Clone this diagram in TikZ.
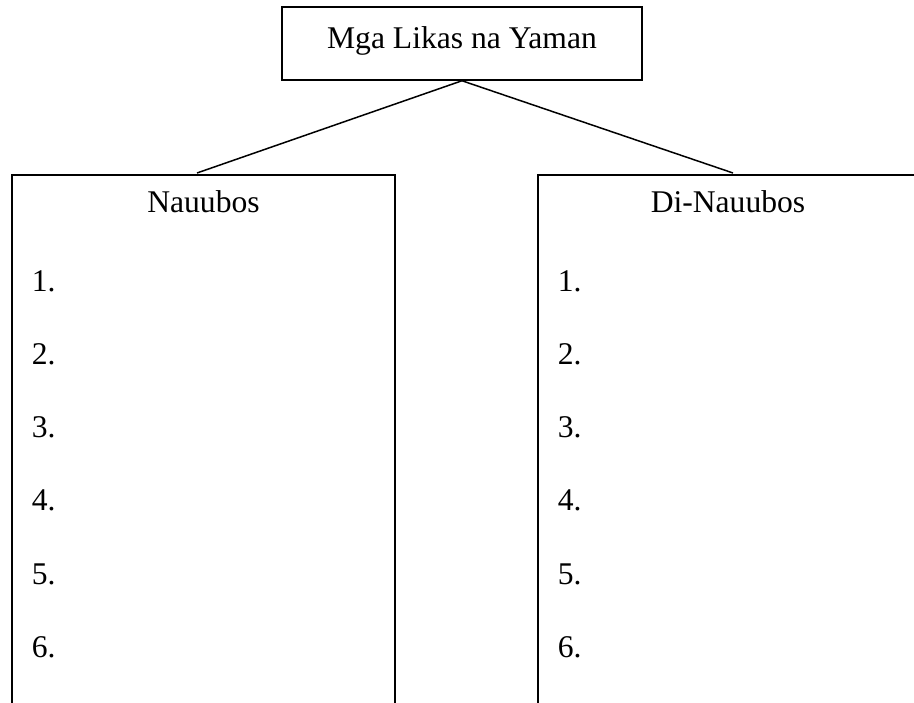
\documentclass[tikz,border=0pt]{standalone}
\usepackage{fontspec}
\setmainfont{Liberation Serif}
\begin{document}
\begin{tikzpicture}[x=1pt, y=-1pt, line width=1.5pt, draw=black]
    \tikzstyle{every node}=[inner sep=0pt, font=\fontsize{31.6}{38}\selectfont];
    \tikzstyle{item}=[anchor=base west];
    \useasboundingbox (0,0) rectangle (914,703);

    \node at (462, 43.5) (top) [draw, minimum width=360pt, minimum height=73pt] {};
    \node at (462, 49) [anchor=base] {Mga Likas na Yaman};

    \coordinate (nl) at (197, 173);
    \coordinate (nr) at (733, 173);
    \draw (top.south) -- (nl);
    \draw (top.south) -- (nr);

    % the two lists, open at the bottom
    \draw (12, 710) -- (12, 175) -- (395, 175) -- (395, 710);
    \draw (538, 710) -- (538, 175) -- (920, 175);
    \node at (203.5, 213) (nauubos) [anchor=base] {Nauubos};
    \node at (728, 213) (dinauubos) [anchor=base] {Di-Nauubos};

    \foreach \i in {1,...,6} {
        \node at (31, 292+73*\i-73) (l\i) [item] {\i.};
        \node at (557, 292+73*\i-73) (r\i) [item] {\i.};
    }
\end{tikzpicture}
\end{document}
